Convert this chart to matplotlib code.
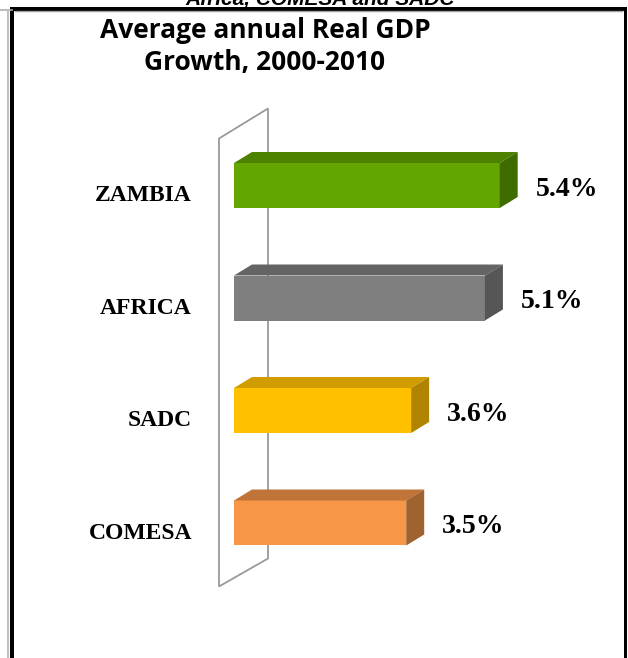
import matplotlib.pyplot as plt
from matplotlib.patches import Polygon, Rectangle

# data
regions = ['ZAMBIA', 'AFRICA', 'SADC', 'COMESA']
growth = [5.4, 5.1, 3.6, 3.5]
front_colors = ['#63A600', '#7F7F7F', '#FFC000', '#F79646']
top_colors = ['#4C8200', '#646464', '#D09C00', '#C0743A']
side_colors = ['#3F6C00', '#565656', '#B08400', '#A0622E']

W, H = 628, 658
fig = plt.figure(figsize=(W / 100, H / 100), dpi=100)

# decoration layer in pixel coords
deco = fig.add_axes([0, 0, 1, 1])
deco.set_xlim(0, W)
deco.set_ylim(H, 0)
deco.axis('off')
deco.plot([0, 12], [9.5, 9.5], color='#b0b0b0', lw=1.2)
deco.plot([8, 8], [10, H], color='#c0c0c0', lw=1.5)
deco.plot([15, 622], [11, 11], color='#a0a0a0', lw=1)
deco.add_patch(Rectangle((10, 7), 4, H, color='black', lw=0))
deco.add_patch(Rectangle((10, 7), 616, 3.5, color='black', lw=0))
deco.add_patch(Rectangle((623.5, 7), 3, H, color='black', lw=0))
deco.text(320, 4.5, 'Africa, COMESA and SADC', ha='center', va='baseline',
          fontsize=15, fontweight='bold', style='italic', family='Liberation Sans')
deco.text(265, 38, 'Average annual Real GDP', ha='center', va='baseline',
          fontsize=19, fontweight='bold', family='Open Sans')
deco.text(265, 70, 'Growth, 2000-2010', ha='center', va='baseline',
          fontsize=19, fontweight='bold', family='Open Sans')

# chart layer: x = growth, y = category index
ax = fig.add_axes([0, 0, 1, 1], facecolor='none')
px = 49.2      # pixels per unit
x0 = 234       # pixel of zero
step = 112.5   # pixels per category
y0 = 185.5     # pixel of first category
ax.set_xlim(-x0 / px, (W - x0) / px)
ax.set_ylim((H - y0) / step, -y0 / step)
ax.axis('off')

ddx = 18 / px
ddy = -11 / step
bh = 45 / step

# back wall
wl, wr = -15 / px, 34 / px
wall = Polygon([(wl, -47 / step), (wr, -77 / step), (wr, 373 / step), (wl, 401 / step)],
               closed=True, facecolor='white', edgecolor='#9a9a9a', lw=1.3, zorder=1)
ax.add_patch(wall)

ys = list(range(len(regions)))
ax.barh(ys, growth, height=bh, color=front_colors, zorder=3, linewidth=0)
for y, name, v, tc, sc in zip(ys, regions, growth, top_colors, side_colors):
    top = y - bh / 2
    bot = y + bh / 2
    ax.add_patch(Polygon([(0, top), (ddx, top + ddy), (v + ddx, top + ddy), (v, top)],
                         closed=True, facecolor=tc, lw=0, zorder=3))
    ax.add_patch(Polygon([(v, top), (v + ddx, top + ddy), (v + ddx, bot + ddy), (v, bot)],
                         closed=True, facecolor=sc, lw=0, zorder=3))
    ax.text(v + 36 / px, y + 0.035, f'{v:.1f}%', ha='left', va='center',
            fontsize=20, fontweight='bold', family='Liberation Serif', zorder=4)
    ax.text(-42 / px, y + 0.09, name, ha='right', va='center',
            fontsize=17, fontweight='bold', family='Liberation Serif', zorder=4)

fig.savefig('out.png', dpi=100)
